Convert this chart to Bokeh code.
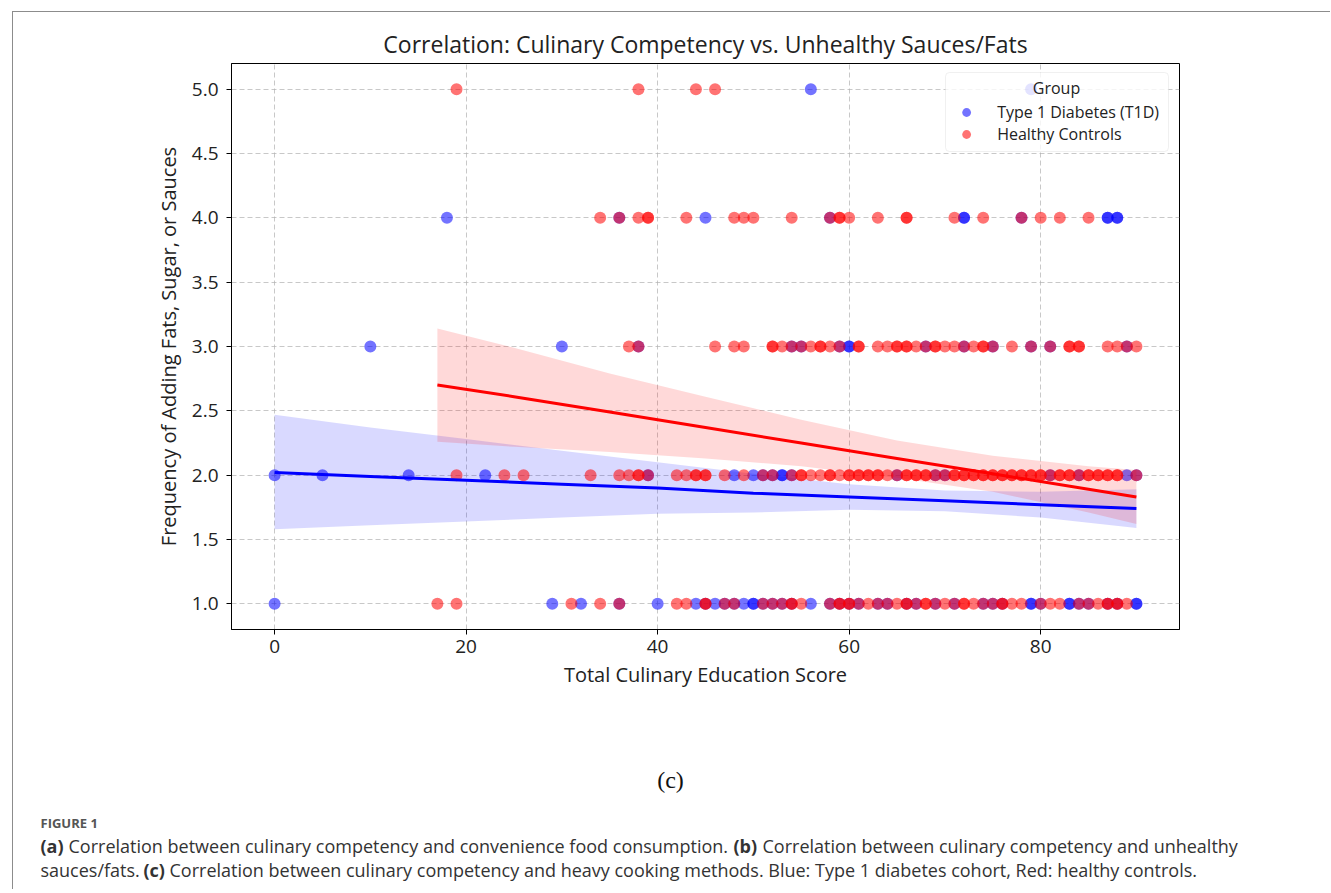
import numpy as np
from bokeh.plotting import figure
from bokeh.models import (Legend, LegendItem, Label, FixedTicker, Range1d, NumeralTickFormatter,
                          BoxAnnotation)
from bokeh.embed import file_html
from bokeh.resources import INLINE

# ---------------- data ----------------
y_levels = [5, 4, 3, 2, 1]

t1d_y5 = [56, 79]
t1d_y4 = [18, 36, 45, 58, 72, 72, 78, 87, 87, 88, 88]
t1d_y3 = [10, 30, 38, 54, 55, 59, 60, 60, 68, 72, 75, 79, 81, 89]
t1d_y2 = [0, 5, 14, 22, 39, 48, 50, 51, 52, 53, 53, 54, 65, 69, 70, 81, 84, 89, 90]
t1d_y1 = [0, 29, 32, 36, 40, 44, 45, 46, 47, 48, 49, 50, 50, 51, 52, 53, 54, 56, 58, 59,
          60, 61, 63, 64, 66, 67, 69, 71, 74, 75, 76, 79, 79, 80, 83, 83, 84, 85, 87, 88, 90, 90]

hc_y5 = [19, 38, 44, 46]
hc_y4 = [34, 36, 38, 39, 39, 43, 48, 49, 50, 54, 58, 59, 59, 60, 63, 66, 66, 71, 74, 78, 80, 82, 85]
hc_y3 = [37, 38, 46, 48, 49, 52, 52, 53, 54, 55, 56, 57, 57, 58, 59, 61, 61, 63, 64, 65, 65, 66,
         66, 67, 68, 69, 69, 70, 71, 72, 73, 74, 74, 75, 77, 79, 81, 83, 83, 84, 84, 87, 88, 89, 90]
hc_y2 = [19, 24, 26, 33, 36, 37, 38, 38, 39, 42, 43, 44, 44, 45, 45, 47, 49, 51, 52, 54, 55, 55,
         56, 57, 58, 58, 59, 60, 60, 61, 61, 62, 62, 63, 63, 64, 65, 66, 66, 67, 67, 68, 68, 69,
         70, 71, 71, 72, 72, 73, 73, 74, 74, 75, 75, 76, 76, 77, 77, 78, 78, 79, 79, 80, 80, 81,
         82, 82, 83, 83, 84, 85, 85, 86, 86, 87, 87, 88, 88, 90]
hc_y1 = [17, 19, 31, 34, 36, 42, 43, 45, 45, 47, 48, 51, 52, 53, 54, 54, 55, 58, 59, 59, 60, 60,
         61, 62, 63, 64, 65, 66, 66, 67, 68, 68, 69, 70, 71, 72, 72, 73, 74, 75, 76, 76, 77, 78,
         80, 81, 82, 84, 85, 86, 87, 87, 88, 88, 89]

# regression fits and confidence bands
t1d_fit_x = [0, 10, 20, 30, 40, 50, 60, 70, 80, 90]
t1d_fit = [2.02, 1.99, 1.96, 1.93, 1.90, 1.86, 1.83, 1.80, 1.77, 1.74]
t1d_lo = [1.58, 1.61, 1.64, 1.67, 1.70, 1.71, 1.73, 1.72, 1.67, 1.59]
t1d_hi = [2.47, 2.37, 2.28, 2.19, 2.10, 2.01, 1.93, 1.88, 1.87, 1.89]

hc_fit_x = [17, 25, 35, 45, 55, 65, 75, 85, 90]
hc_fit = [2.70, 2.61, 2.49, 2.37, 2.25, 2.13, 2.01, 1.89, 1.83]
hc_lo = [2.26, 2.22, 2.18, 2.13, 2.07, 1.98, 1.87, 1.71, 1.62]
hc_hi = [3.14, 2.99, 2.79, 2.61, 2.43, 2.27, 2.15, 2.07, 2.04]

x_ticks = [0, 20, 40, 60, 80]
y_ticks = [1.0, 1.5, 2.0, 2.5, 3.0, 3.5, 4.0, 4.5, 5.0]

group_labels = ["Type 1 Diabetes (T1D)", "Healthy Controls"]


def stack(levels, lists):
    xs, ys = [], []
    for lv, lst in zip(levels, lists):
        xs += lst
        ys += [lv] * len(lst)
    return xs, ys


t1d_x, t1d_y = stack(y_levels, [t1d_y5, t1d_y4, t1d_y3, t1d_y2, t1d_y1])
hc_x, hc_y = stack(y_levels, [hc_y5, hc_y4, hc_y3, hc_y2, hc_y1])

# ---------------- geometry (page pixels) ----------------
W = 1318
CX, CY = 13, 12                      # canvas origin of the chart
SPLIT, BOTTOM = 700, 890             # chart / caption split, page bottom
H1, H2 = SPLIT - CY, BOTTOM - SPLIT
PL, PT, PR, PB = 231, 63, 1179, 629  # plot frame
X0, X1, Y0, Y1 = -4.5, 94.5, 0.8, 5.2

FONT = "Open Sans"
INK = "#222222"
BORDER = "1px solid #8c8c8c"

p = figure(width=W, height=H1, output_backend="svg", toolbar_location=None,
           x_range=Range1d(X0, X1), y_range=Range1d(Y0, Y1),
           min_border_left=PL - CX, min_border_right=W - (PR - CX),
           min_border_top=PT - CY, min_border_bottom=SPLIT - PB)
p.margin = (11, 0, 0, 12)
p.styles = {"border-top": BORDER, "border-left": BORDER}
p.background_fill_color = "white"
p.border_fill_color = "white"
p.outline_line_color = "black"
p.outline_line_width = 1
p.outline_line_alpha = 1

p.title.text = "Correlation: Culinary Competency vs. Unhealthy Sauces/Fats"
p.title.align = "center"
p.title.text_font = FONT
p.title.text_font_size = "23px"
p.title.text_font_style = "normal"
p.title.text_color = INK
p.title.standoff = 8

for ax in (p.xaxis, p.yaxis):
    ax.axis_line_color = "black"
    ax.major_tick_line_color = "black"
    ax.major_tick_out = 5
    ax.major_tick_in = 0
    ax.minor_tick_line_color = None
    ax.major_label_text_font = FONT
    ax.major_label_text_font_size = "19px"
    ax.major_label_text_color = INK
    ax.axis_label_text_font = FONT
    ax.axis_label_text_font_size = "20px"
    ax.axis_label_text_font_style = "normal"
    ax.axis_label_text_color = INK

p.xaxis.ticker = FixedTicker(ticks=x_ticks)
p.yaxis.ticker = FixedTicker(ticks=y_ticks)
p.yaxis.formatter = NumeralTickFormatter(format="0.0")
p.xaxis.axis_label = "Total Culinary Education Score"
p.yaxis.axis_label = "Frequency of Adding Fats, Sugar, or Sauces"
p.xaxis.major_label_standoff = 5
p.yaxis.major_label_standoff = 8
p.xaxis.axis_label_standoff = 5
p.yaxis.axis_label_standoff = 7

for g in (p.xgrid, p.ygrid):
    g.grid_line_color = "#b0b0b0"
    g.grid_line_alpha = 0.7
    g.grid_line_dash = "5 3"
    g.grid_line_width = 1

# ---------------- marks ----------------
r_t1d = p.scatter(t1d_x, t1d_y, size=12, fill_color="blue", fill_alpha=0.55, line_color=None)
p.varea(x=t1d_fit_x, y1=t1d_lo, y2=t1d_hi, fill_color="blue", fill_alpha=0.15)
r_hc = p.scatter(hc_x, hc_y, size=12, fill_color="red", fill_alpha=0.55, line_color=None)
p.varea(x=hc_fit_x, y1=hc_lo, y2=hc_hi, fill_color="red", fill_alpha=0.15)
p.line(t1d_fit_x, t1d_fit, line_color="blue", line_width=3)
p.line(hc_fit_x, hc_fit, line_color="red", line_width=3)


def dpos(px, py):
    dx = X0 + (px - PL) * (X1 - X0) / (PR - PL)
    dy = Y1 - (py - PT) * (Y1 - Y0) / (PB - PT)
    return dx, dy


# legend panel: semi-transparent box, centred title, then the entries on top
bl, bt = dpos(945, 72)
br, bb = dpos(1168, 151)
p.add_layout(BoxAnnotation(left=bl, right=br, top=bt, bottom=bb, fill_color="white",
                           fill_alpha=0.8, line_color="#cccccc", line_width=1,
                           border_radius=4, level="annotation"))
gx, gy = dpos(1056, 87)
p.add_layout(Label(x=gx, y=gy, text="Group", text_font=FONT, text_font_size="16px",
                   text_color=INK, text_align="center", text_baseline="middle"))

legend = Legend(items=[LegendItem(label=group_labels[0], renderers=[r_t1d]),
                       LegendItem(label=group_labels[1], renderers=[r_hc])],
                location="top_right", title=" ")
legend.title_text_font_size = "14px"
legend.title_standoff = 2
legend.label_text_font = FONT
legend.label_text_font_size = "16px"
legend.label_text_color = INK
legend.background_fill_color = "white"
legend.background_fill_alpha = 0
legend.border_line_color = "white"
legend.border_line_alpha = 0
legend.border_line_width = 1
legend.padding = 10
legend.margin = 10
legend.spacing = 0
legend.glyph_width = 24
legend.glyph_height = 22
legend.label_height = 22
legend.label_standoff = 19
p.add_layout(legend)

# ---------------- caption panel (its data units are page pixels) ----------------
c = figure(width=W, height=H2, output_backend="svg", toolbar_location=None,
           x_range=Range1d(CX, CX + W), y_range=Range1d(BOTTOM, SPLIT),
           x_axis_type=None, y_axis_type=None, min_border=0)
c.margin = (0, 0, 0, 12)
c.styles = {"border-left": BORDER}
c.outline_line_color = None
c.background_fill_color = "white"
c.border_fill_color = "white"
c.grid.visible = False

CAP = "#333333"
CS = "18px"


def cap(txt, px, py, size, font=FONT, style="normal", color=CAP, align="left"):
    c.add_layout(Label(x=px, y=py, text=txt, text_font=font, text_font_size=size,
                       text_font_style=style, text_color=color, text_align=align,
                       text_baseline="middle"))


cap("(c)", 670, 780, "24px", font="Liberation Serif", color="#111111", align="center")
cap("FIGURE 1", 40, 823, "13px", style="bold", color="#555555")
cap("(a)", 40, 846, CS, style="bold")
cap("Correlation between culinary competency and convenience food consumption.", 68, 846, CS)
cap("(b)", 733, 846, CS, style="bold")
cap("Correlation between culinary competency and unhealthy", 762, 846, CS)
cap("sauces/fats.", 40, 870, CS)
cap("(c)", 143, 870, CS, style="bold")
cap("Correlation between culinary competency and heavy cooking methods. Blue: Type 1 diabetes "
    "cohort, Red: healthy controls.", 169, 870, CS)

open("out.html", "w").write(file_html([p, c], INLINE))
